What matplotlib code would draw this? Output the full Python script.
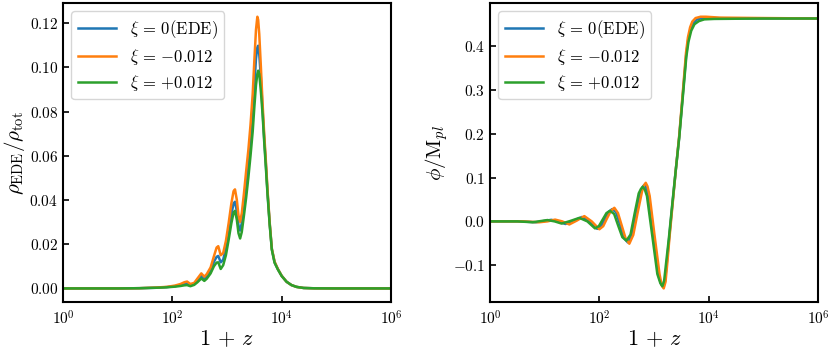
import numpy as np
import matplotlib
matplotlib.use("Agg")
import matplotlib.pyplot as plt

plt.rcParams.update({
    "font.family": "serif",
    "font.serif": ["cmr10", "DejaVu Serif"],
    "mathtext.fontset": "cm",
    "axes.formatter.use_mathtext": True,
    "axes.linewidth": 1.5,
    "xtick.direction": "in",
    "ytick.direction": "in",
    "xtick.major.size": 4,
    "ytick.major.size": 4,
    "xtick.major.width": 1.2,
    "ytick.major.width": 1.2,
})

labels = [r"$\xi\,=\,0(\mathrm{EDE})$", r"$\xi\,=\,{-}0.012$",
          r"$\xi\,=\,{+}0.012$"]
colors = ["C0", "C1", "C2"]

# ---- left panel: rho_EDE / rho_tot, shared log10(1+z) grid
lz_rho = [0.0, 1.0, 1.4, 1.7, 1.9, 2.05, 2.15, 2.22, 2.27, 2.33, 2.40, 2.46,
          2.53, 2.585, 2.63, 2.70, 2.76, 2.81, 2.84, 2.885, 2.93, 2.98, 3.03,
          3.08, 3.12, 3.146, 3.18, 3.21, 3.24, 3.27, 3.31, 3.35, 3.39, 3.43,
          3.47, 3.50, 3.53, 3.555, 3.57, 3.59, 3.62, 3.65, 3.68, 3.71, 3.74,
          3.78, 3.82, 3.87, 3.93, 4.00, 4.09, 4.18, 4.27, 4.4, 4.6, 5.0, 6.0]
rho_ede = [0.0, 0.0, 0.0001, 0.0003, 0.0006, 0.0010, 0.0015, 0.0020, 0.0022,
           0.0015, 0.0020, 0.0035, 0.0056, 0.0043, 0.0053, 0.0080, 0.0120,
           0.0143, 0.0147, 0.0118, 0.0130, 0.0180, 0.0255, 0.0335, 0.0385,
           0.0392, 0.0350, 0.0285, 0.0262, 0.0295, 0.0375, 0.0465, 0.0560,
           0.0665, 0.0790, 0.0915, 0.1040, 0.1090, 0.1098, 0.1060, 0.0950,
           0.0810, 0.0680, 0.0565, 0.0440, 0.0295, 0.0178, 0.0119, 0.0087,
           0.0057, 0.0030, 0.0015, 0.0007, 0.0002, 0.00005, 0.0, 0.0]
rho_neg = [0.0, 0.0, 0.0001, 0.0004, 0.0007, 0.0013, 0.0020, 0.0028, 0.0031,
           0.0020, 0.0025, 0.0045, 0.0068, 0.0053, 0.0065, 0.0095, 0.0145,
           0.0185, 0.0191, 0.0150, 0.0160, 0.0215, 0.0295, 0.0385, 0.0440,
           0.0448, 0.0400, 0.0330, 0.0301, 0.0340, 0.0430, 0.0530, 0.0625,
           0.0740, 0.0880, 0.1030, 0.1170, 0.1229, 0.1215, 0.1150, 0.1000,
           0.0840, 0.0700, 0.0580, 0.0450, 0.0300, 0.0180, 0.0121, 0.0088,
           0.0057, 0.0030, 0.0015, 0.0007, 0.0002, 0.00005, 0.0, 0.0]
rho_pos = [0.0, 0.0, 0.0001, 0.0003, 0.0005, 0.0008, 0.0011, 0.0014, 0.0015,
           0.0010, 0.0016, 0.0028, 0.0045, 0.0034, 0.0044, 0.0068, 0.0100,
           0.0117, 0.0118, 0.0088, 0.0105, 0.0150, 0.0220, 0.0295, 0.0343,
           0.0351, 0.0310, 0.0250, 0.0226, 0.0255, 0.0330, 0.0410, 0.0500,
           0.0600, 0.0710, 0.0820, 0.0920, 0.0970, 0.0985, 0.0970, 0.0890,
           0.0790, 0.0665, 0.0550, 0.0430, 0.0290, 0.0175, 0.0116, 0.0086,
           0.0056, 0.0030, 0.0015, 0.0007, 0.0002, 0.00005, 0.0, 0.0]

# ---- right panel: phi / M_pl, one log10(1+z) grid per curve
lz_phi_ede = [0.0, 0.55, 0.84, 1.12, 1.25, 1.38, 1.53, 1.68, 1.82, 1.96, 2.03,
              2.10, 2.17, 2.235, 2.305, 2.38, 2.45, 2.52, 2.595, 2.67, 2.75,
              2.79, 2.82, 2.855, 2.895, 2.99, 3.08, 3.13, 3.165, 3.20, 3.235,
              3.275, 3.335, 3.40, 3.46, 3.52, 3.588, 3.625, 3.67, 3.72, 3.79,
              3.88, 4.0, 4.3, 5.0, 6.0]
phi_ede = [0.0, 0.0, -0.002, 0.0035, 0.0, -0.006, 0.0015, 0.010, 0.0, -0.017,
           -0.0115, 0.0055, 0.022, 0.028, 0.021, -0.008, -0.038, -0.048,
           -0.033, 0.019, 0.068, 0.078, 0.083, 0.077, 0.061, -0.035, -0.122,
           -0.143, -0.150, -0.137, -0.092, -0.040, 0.038, 0.120, 0.192, 0.280,
           0.380, 0.415, 0.440, 0.453, 0.461, 0.464, 0.464, 0.4635, 0.463,
           0.463]

lz_phi_neg = [0.0, 0.6, 0.90, 1.05, 1.19, 1.32, 1.45, 1.59, 1.725, 1.86, 2.00,
              2.07, 2.14, 2.21, 2.274, 2.34, 2.41, 2.48, 2.548, 2.62, 2.70,
              2.78, 2.815, 2.848, 2.88, 2.92, 3.01, 3.10, 3.14, 3.177, 3.21,
              3.245, 3.28, 3.34, 3.40, 3.46, 3.52, 3.585, 3.62, 3.66, 3.70,
              3.76, 3.85, 3.95, 4.2, 5.0, 6.0]
phi_neg = [0.0, 0.0, -0.002, 0.0, 0.004, 0.0, -0.007, 0.002, 0.012, 0.0,
           -0.018, -0.011, 0.007, 0.024, 0.031, 0.019, -0.010, -0.039, -0.051,
           -0.031, 0.020, 0.068, 0.082, 0.088, 0.080, 0.058, -0.033, -0.120,
           -0.146, -0.153, -0.138, -0.092, -0.040, 0.040, 0.120, 0.195, 0.285,
           0.385, 0.420, 0.443, 0.456, 0.464, 0.467, 0.467, 0.465, 0.464,
           0.463]

lz_phi_pos = [0.0, 0.5, 0.78, 1.05, 1.18, 1.31, 1.47, 1.634, 1.78, 1.92, 1.99,
              2.06, 2.13, 2.195, 2.27, 2.345, 2.42, 2.495, 2.57, 2.645, 2.72,
              2.76, 2.793, 2.83, 2.87, 2.97, 3.06, 3.115, 3.152, 3.185, 3.225,
              3.27, 3.33, 3.40, 3.46, 3.52, 3.59, 3.63, 3.68, 3.74, 3.82, 3.92,
              4.1, 5.0, 6.0]
phi_pos = [0.0, 0.0, -0.002, 0.003, 0.0, -0.005, 0.001, 0.008, 0.0, -0.016,
           -0.011, 0.004, 0.019, 0.024, 0.017, -0.010, -0.036, -0.044, -0.030,
           0.018, 0.064, 0.074, 0.079, 0.073, 0.058, -0.035, -0.120, -0.141,
           -0.148, -0.135, -0.090, -0.040, 0.035, 0.120, 0.190, 0.275, 0.375,
           0.410, 0.435, 0.450, 0.457, 0.461, 0.462, 0.463, 0.463]

fig = plt.figure(figsize=(8.3, 3.51), dpi=100)
ax1 = fig.add_axes([0.0759, 0.1396, 0.3952, 0.8514])
ax2 = fig.add_axes([0.5904, 0.1396, 0.3952, 0.8514])

x_rho = 10 ** np.array(lz_rho)
for y, c, lab in zip([rho_ede, rho_neg, rho_pos], colors, labels):
    ax1.plot(x_rho, y, color=c, lw=1.8, label=lab)

for lz, y, c, lab in zip([lz_phi_ede, lz_phi_neg, lz_phi_pos],
                         [phi_ede, phi_neg, phi_pos], colors, labels):
    ax2.plot(10 ** np.array(lz), y, color=c, lw=1.8, label=lab)

for ax in (ax1, ax2):
    ax.set_xscale("log")
    ax.set_xlim(1, 1e6)
    ax.set_xticks([1, 1e2, 1e4, 1e6])
    ax.minorticks_off()
    ax.tick_params(axis="x", labelsize=11, pad=5)
    ax.tick_params(axis="y", labelsize=11)
    ax.set_xlabel(r"$1\,+\,z$", fontsize=16, labelpad=1)
    ax.legend(loc="upper left", fontsize=12, handlelength=2.3,
              labelspacing=0.35)

ax1.set_ylabel(r"$\rho_{\rm EDE}/\rho_{\rm tot}$", fontsize=15, labelpad=2)
ax2.set_ylabel(r"$\phi/{\rm M}_{pl}$", fontsize=15, labelpad=2)

fig.savefig("out.png", dpi=100)
